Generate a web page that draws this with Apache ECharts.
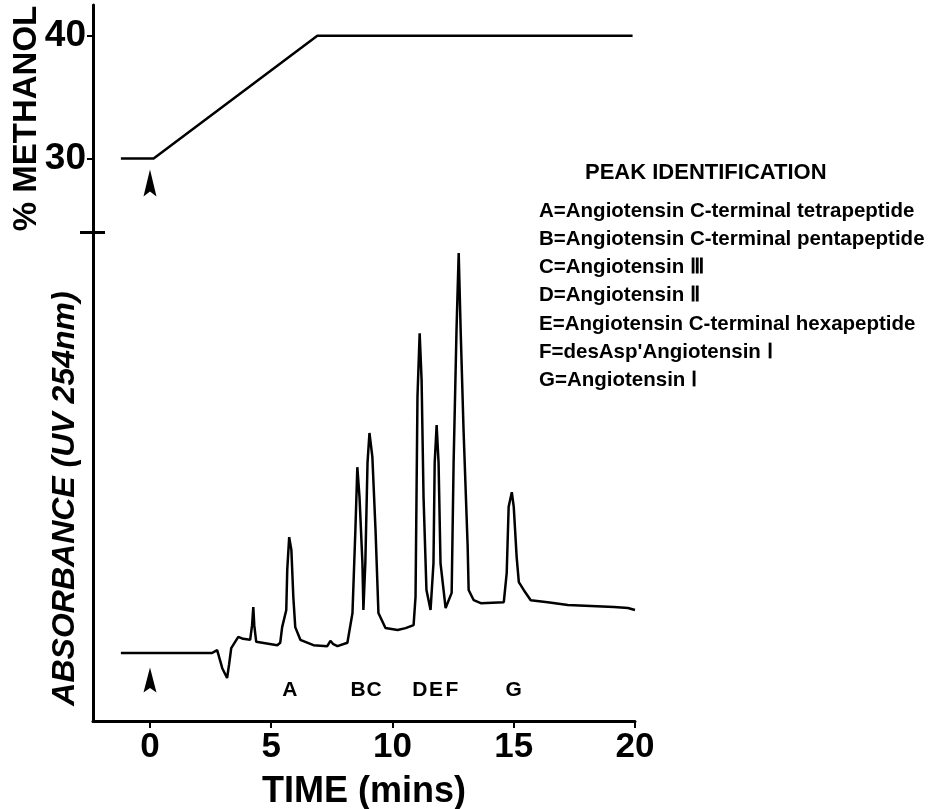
<!DOCTYPE html>
<html>
<head>
<meta charset="utf-8">
<script src="https://cdn.jsdelivr.net/npm/echarts@6/dist/echarts.min.js"></script>
<style>
  html, body { margin: 0; padding: 0; background: #fff; }
  #main { width: 950px; height: 809px; }
</style>
</head>
<body>
<div id="main"></div>
<script>
// methanol gradient (top panel)
const methanolTime = [-1.2, 0.15, 6.9, 19.9]
const methanolPct = [30, 30, 40, 40]
const methanolTicks = [30, 40]

// UV trace (bottom panel), arbitrary absorbance units 0..100
const traceTime = [-1.2, 2.56, 2.77, 2.98, 3.18, 3.26, 3.35, 3.64, 3.84, 4.13, 4.21, 4.26, 4.30, 4.38, 4.63,
  5.25, 5.37, 5.45, 5.62, 5.66, 5.74, 5.83, 5.91, 5.99, 6.20, 6.74, 7.31, 7.44, 7.56, 7.73, 8.14, 8.35, 8.47,
  8.55, 8.64, 8.76, 8.80, 8.88, 8.97, 9.05, 9.17, 9.30, 9.42, 9.71, 10.21, 10.54, 10.87, 10.95, 11.03, 11.12,
  11.20, 11.28, 11.40, 11.57, 11.69, 11.74, 11.82, 11.90, 11.98, 12.19, 12.44, 12.52, 12.64, 12.73, 12.81,
  12.93, 13.10, 13.14, 13.35, 13.64, 14.59, 14.71, 14.79, 14.92, 15.00, 15.12, 15.21, 15.41, 15.70, 16.40,
  17.23, 19.13, 19.71, 20.0]
const traceAbs = [13.9, 13.9, 14.5, 10.8, 8.8, 11.5, 14.9, 17.2, 16.8, 16.6, 19.6, 23.3, 19.6, 16.2, 16.0,
  15.5, 16.0, 19.2, 22.7, 30.9, 37.6, 35.0, 25.4, 19.2, 16.6, 15.5, 15.3, 16.4, 15.7, 15.3, 16.0, 22.1, 39.1,
  51.9, 45.8, 32.3, 22.7, 32.3, 52.8, 58.9, 54.0, 39.1, 22.1, 19.0, 18.6, 19.0, 19.6, 25.4, 66.3, 79.3,
  69.7, 45.8, 26.8, 22.7, 32.3, 52.8, 60.5, 52.8, 32.3, 23.1, 26.2, 52.8, 80.0, 95.7, 80.0,
  59.5, 35.6, 26.8, 24.7, 24.1, 24.3, 30.3, 43.8, 46.8, 43.8, 33.5, 28.4, 26.8, 24.7, 24.3,
  23.7, 23.3, 23.1, 22.7]

// peak letters under the trace
const peakLetters = ['A', 'B', 'C', 'D', 'E', 'F', 'G']
const peakLetterTime = [5.77, 8.58, 9.24, 11.13, 11.79, 12.45, 15.0]
const peakLetterLevel = 6.3

// injection arrows
const injectTime = 0
const injectMethanol = 28
const injectAbs = 8.4

const timeTicks = [0, 5, 10, 15, 20]

const peakNames = [
  'A=Angiotensin C-terminal tetrapeptide',
  'B=Angiotensin C-terminal pentapeptide',
  'C=Angiotensin Ⅲ',
  'D=Angiotensin Ⅱ',
  'E=Angiotensin C-terminal hexapeptide',
  "F=desAsp'Angiotensin Ⅰ",
  'G=Angiotensin Ⅰ'
]

const FONT = 'Liberation Sans'
const arrowPath = 'path://M6,0 L12,28 L6,23 L0,28 Z'

const zip = (a, b) => a.map((v, i) => [v, b[i]])

const chart = echarts.init(document.getElementById('main'), null, { renderer: 'canvas' })

chart.setOption({
  backgroundColor: '#fff',
  animation: false,
  textStyle: { fontFamily: FONT, color: '#000' },
  grid: [
    { left: 93, top: 5, width: 542, height: 227, outerBoundsMode: 'none' },
    { left: 93, top: 232, width: 542, height: 489, outerBoundsMode: 'none' }
  ],
  xAxis: [
    { type: 'value', gridIndex: 0, min: -2.35, max: 20, show: false },
    {
      type: 'value',
      gridIndex: 1,
      min: -2.35,
      max: 20,
      splitLine: { show: false },
      axisLine: { onZero: false, lineStyle: { color: '#000', width: 3 } },
      axisTick: { customValues: timeTicks, length: 7, lineStyle: { color: '#000', width: 2 } },
      axisLabel: { customValues: timeTicks, fontSize: 35, fontWeight: 'bold', color: '#000', margin: 9 },
      name: 'TIME (mins)',
      nameLocation: 'middle',
      nameGap: 53,
      nameTextStyle: { fontSize: 36, fontWeight: 'bold', color: '#000' }
    }
  ],
  yAxis: [
    {
      type: 'value',
      gridIndex: 0,
      position: 'left',
      min: 24,
      max: 42.5,
      splitLine: { show: false },
      axisLine: { show: true, onZero: false, lineStyle: { color: '#000', width: 3 } },
      axisTick: { customValues: methanolTicks, length: 6, lineStyle: { color: '#000', width: 2 } },
      axisLabel: { customValues: methanolTicks, fontSize: 37, fontWeight: 'bold', color: '#000', margin: 7 },
      name: '% METHANOL',
      nameLocation: 'middle',
      nameRotate: 90,
      nameGap: 50,
      nameMoveOverlap: false,
      nameTextStyle: { fontSize: 33, fontWeight: 'bold', color: '#000' }
    },
    {
      type: 'value',
      gridIndex: 1,
      position: 'left',
      min: 0,
      max: 100,
      splitLine: { show: false },
      axisLine: { show: true, onZero: false, lineStyle: { color: '#000', width: 3 } },
      axisTick: { customValues: [100], length: 13, lineStyle: { color: '#000', width: 3 } },
      axisLabel: { show: false },
      name: 'ABSORBANCE (UV 254nm)',
      nameLocation: 'middle',
      nameRotate: 90,
      nameGap: 12,
      nameTextStyle: { fontSize: 32, fontWeight: 'bold', fontStyle: 'italic', color: '#000', padding: [0, 44, 0, 0] }
    },
    {
      // right half of the break mark
      type: 'value',
      gridIndex: 0,
      position: 'left',
      min: 24,
      max: 42.5,
      splitLine: { show: false },
      axisLine: { show: false, onZero: false },
      axisTick: { customValues: [24], inside: true, length: 12, lineStyle: { color: '#000', width: 3 } },
      axisLabel: { show: false }
    }
  ],
  series: [
    {
      name: 'Methanol',
      type: 'line',
      xAxisIndex: 0,
      yAxisIndex: 0,
      symbol: 'none',
      lineStyle: { color: '#000', width: 2.5 },
      data: zip(methanolTime, methanolPct)
    },
    {
      name: 'Absorbance',
      type: 'line',
      xAxisIndex: 1,
      yAxisIndex: 1,
      symbol: 'none',
      lineStyle: { color: '#000', width: 2.5 },
      data: zip(traceTime, traceAbs)
    },
    {
      name: 'Inject top',
      type: 'scatter',
      xAxisIndex: 0,
      yAxisIndex: 0,
      symbol: arrowPath,
      symbolSize: [13, 27],
      itemStyle: { color: '#000', opacity: 1 },
      data: [[injectTime, injectMethanol]]
    },
    {
      name: 'Inject bottom',
      type: 'scatter',
      xAxisIndex: 1,
      yAxisIndex: 1,
      symbol: arrowPath,
      symbolSize: [13, 25],
      itemStyle: { color: '#000', opacity: 1 },
      data: [[injectTime, injectAbs]]
    },
    {
      name: 'Peaks',
      type: 'scatter',
      xAxisIndex: 1,
      yAxisIndex: 1,
      symbolSize: 0,
      itemStyle: { opacity: 1 },
      label: {
        show: true,
        position: 'inside',
        formatter: (p) => p.data[2],
        fontSize: 21,
        fontWeight: 'bold',
        color: '#000',
        opacity: 1,
        fontFamily: FONT
      },
      data: peakLetterTime.map((t, i) => [t, peakLetterLevel, peakLetters[i]])
    }
  ],
  graphic: [
    {
      type: 'text',
      left: 585,
      top: 162,
      style: { text: 'PEAK IDENTIFICATION', fontSize: 22, fontWeight: 'bold', fontFamily: FONT, fill: '#000' }
    },
    {
      type: 'text',
      left: 539,
      top: 197,
      style: {
        text: peakNames.join('\n'),
        fontSize: 20.5,
        lineHeight: 28.2,
        fontWeight: 'bold',
        fontFamily: FONT,
        fill: '#000'
      }
    }
  ]
})
</script>
</body>
</html>
